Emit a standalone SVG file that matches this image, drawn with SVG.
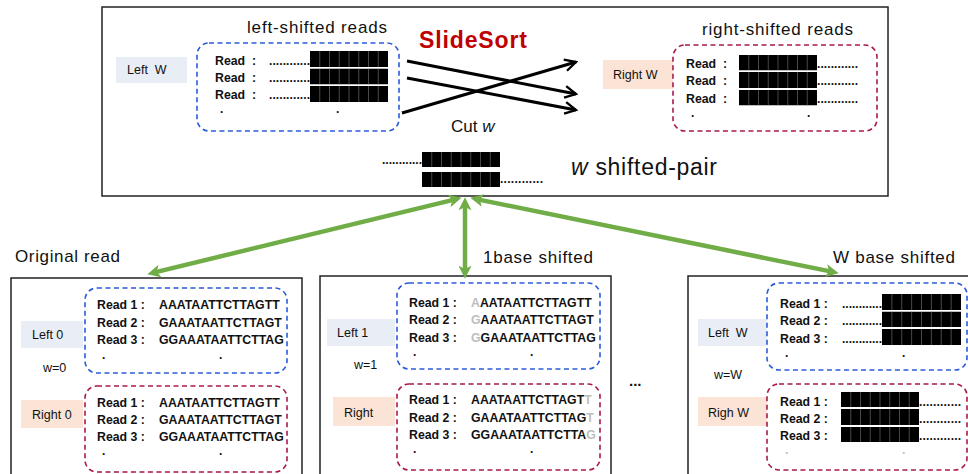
<svg xmlns="http://www.w3.org/2000/svg" width="968" height="474" viewBox="0 0 968 474">
  <style>
    text { font-family: "Liberation Sans", Arial, sans-serif; fill: #111; }
    .frame { fill: #fff; stroke: #222; stroke-width: 1.5; }
    .blue { fill: none; stroke: #2a5bd7; stroke-width: 1.6; stroke-dasharray: 5 3.5; }
    .red { fill: none; stroke: #a8184f; stroke-width: 1.6; stroke-dasharray: 5 3.5; }
    .lblL { fill: #e9edf5; }
    .lblR { fill: #fbe4d5; }
    .lbl { font-size: 12.5px; }
    .rd { font-size: 12.3px; font-weight: bold; }
    .dots { font-size: 12px; font-weight: bold; }
    .head { font-size: 17px; }
    .gr { fill: #bdbdbd; }
    .green { stroke: #70ad47; stroke-width: 4.5; fill: none; }
    .black { stroke: #000; stroke-width: 3; fill: none; }
  </style>
  <defs>
    <marker id="gh" viewBox="0 0 12 12" refX="4" refY="6" markerWidth="13" markerHeight="13" markerUnits="userSpaceOnUse" orient="auto-start-reverse">
      <path d="M0,0 L12,6 L0,12 L3,6 z" fill="#70ad47"/>
    </marker>
    <marker id="bh" viewBox="0 0 12 12" refX="10.5" refY="6" markerWidth="14" markerHeight="14" markerUnits="userSpaceOnUse" orient="auto">
      <path d="M1,1 L10.5,6 L1,11" fill="none" stroke="#000" stroke-width="2" stroke-linejoin="miter"/>
    </marker>
    <!-- one row of eight black cells -->
    <symbol id="blk" viewBox="0 0 78 16" width="78" height="16" preserveAspectRatio="none">
      <rect x="0" y="0" width="78" height="16" fill="#000"/>
      <g stroke="#5a5a5a" stroke-width="0.8">
        <line x1="9.75" y1="0" x2="9.75" y2="16"/>
        <line x1="19.5" y1="0" x2="19.5" y2="16"/>
        <line x1="29.25" y1="0" x2="29.25" y2="16"/>
        <line x1="39" y1="0" x2="39" y2="16"/>
        <line x1="48.75" y1="0" x2="48.75" y2="16"/>
        <line x1="58.5" y1="0" x2="58.5" y2="16"/>
        <line x1="68.25" y1="0" x2="68.25" y2="16"/>
      </g>
    </symbol>
  </defs>

  <!-- SlideSort overview panel -->
  <g id="slidesort">
    <rect class="frame" x="102" y="7" width="786" height="189"/>
    <text class="head" x="247" y="33" textLength="140">left-shifted reads</text>
    <rect class="lblL" x="116" y="57" width="71" height="26"/>
    <text class="lbl" x="127" y="74" xml:space="preserve">Left  W</text>
    <rect class="blue" x="197" y="43" width="202" height="88" rx="12"/>
    <text class="rd" x="215" y="65" xml:space="preserve">Read  :</text>
    <text class="rd" x="215" y="82" xml:space="preserve">Read  :</text>
    <text class="rd" x="215" y="99" xml:space="preserve">Read  :</text>
    <text class="dots" x="269" y="65" textLength="41">............</text>
    <text class="dots" x="269" y="82" textLength="41">............</text>
    <text class="dots" x="269" y="99" textLength="41">............</text>
    <use href="#blk" x="310" y="51" width="78" height="16"/>
    <use href="#blk" x="310" y="68.5" width="78" height="16"/>
    <use href="#blk" x="310" y="86" width="78" height="16"/>
    <text class="dots" x="220" y="113">.</text>
    <text class="dots" x="336" y="113">.</text>

    <text x="419" y="48" font-size="23" font-weight="bold" style="fill:#c00000" textLength="108">SlideSort</text>
    <text class="head" x="451" y="132">Cut <tspan font-style="italic">w</tspan></text>

    <text class="head" x="702" y="35" textLength="151">right-shifted reads</text>
    <rect class="lblR" x="603" y="60" width="70" height="29"/>
    <text class="lbl" x="613" y="79">Right W</text>
    <rect class="red" x="673" y="45" width="204" height="86" rx="12"/>
    <text class="rd" x="686" y="68" xml:space="preserve">Read  :</text>
    <text class="rd" x="686" y="85" xml:space="preserve">Read  :</text>
    <text class="rd" x="686" y="103" xml:space="preserve">Read  :</text>
    <use href="#blk" x="739" y="55" width="78" height="15.5"/>
    <use href="#blk" x="739" y="72" width="78" height="16"/>
    <use href="#blk" x="739" y="90" width="78" height="15.5"/>
    <text class="dots" x="817" y="68" textLength="41">............</text>
    <text class="dots" x="817" y="85" textLength="41">............</text>
    <text class="dots" x="817" y="103" textLength="41">............</text>
    <text class="dots" x="691" y="117">.</text>
    <text class="dots" x="807" y="117">.</text>

    <text class="dots" x="382" y="164" textLength="40">............</text>
    <use href="#blk" x="422" y="152" width="78" height="15"/>
    <use href="#blk" x="422" y="172" width="78" height="15"/>
    <text class="dots" x="500" y="183" textLength="43">............</text>
    <text x="571" y="175" font-size="23" textLength="146"><tspan font-style="italic">w</tspan> shifted-pair</text>
  </g>

  <!-- w = 0 -->
  <g id="original-read">
    <text class="head" x="15" y="262" textLength="105">Original read</text>
    <rect class="frame" x="11" y="278" width="291" height="210"/>
    <rect class="lblL" x="21" y="321" width="62" height="27"/>
    <text class="lbl" x="32" y="339">Left 0</text>
    <text class="lbl" x="43" y="372">w=0</text>
    <rect class="lblR" x="21" y="400" width="62" height="28"/>
    <text class="lbl" x="32" y="419">Right 0</text>
    <rect class="blue" x="85" y="288" width="202" height="85" rx="12"/>
    <text class="rd" x="97" y="309">Read 1 :</text>
    <text class="rd" x="97" y="327">Read 2 :</text>
    <text class="rd" x="97" y="344">Read 3 :</text>
    <text class="rd" x="159" y="309">AAATAATTCTTAGTT</text>
    <text class="rd" x="159" y="327">GAAATAATTCTTAGT</text>
    <text class="rd" x="159" y="344">GGAAATAATTCTTAG</text>
    <text class="dots" x="102" y="359">.</text>
    <text class="dots" x="219" y="359">.</text>
    <rect class="red" x="85" y="386" width="202" height="86" rx="12"/>
    <text class="rd" x="97" y="407">Read 1 :</text>
    <text class="rd" x="97" y="424">Read 2 :</text>
    <text class="rd" x="97" y="441">Read 3 :</text>
    <text class="rd" x="159" y="407">AAATAATTCTTAGTT</text>
    <text class="rd" x="159" y="424">GAAATAATTCTTAGT</text>
    <text class="rd" x="159" y="441">GGAAATAATTCTTAG</text>
    <text class="dots" x="102" y="455">.</text>
    <text class="dots" x="219" y="455">.</text>
  </g>

  <!-- w = 1 -->
  <g id="one-base-shifted">
    <text class="head" x="483" y="263" textLength="110">1base shifted</text>
    <rect class="frame" x="320" y="276" width="291" height="212"/>
    <rect class="lblL" x="327" y="319" width="68" height="27"/>
    <text class="lbl" x="337" y="337">Left 1</text>
    <text class="lbl" x="354" y="369">w=1</text>
    <rect class="lblR" x="333" y="397" width="62" height="29"/>
    <text class="lbl" x="344" y="417">Right</text>
    <rect class="blue" x="397" y="283" width="203" height="86" rx="12"/>
    <text class="rd" x="409" y="307">Read 1 :</text>
    <text class="rd" x="409" y="324">Read 2 :</text>
    <text class="rd" x="409" y="342">Read 3 :</text>
    <text class="rd" x="471" y="307"><tspan class="gr">A</tspan>AATAATTCTTAGTT</text>
    <text class="rd" x="471" y="324"><tspan class="gr">G</tspan>AAATAATTCTTAGT</text>
    <text class="rd" x="471" y="342"><tspan class="gr">G</tspan>GAAATAATTCTTAG</text>
    <text class="dots" x="413" y="356">.</text>
    <text class="dots" x="530" y="356">.</text>
    <rect class="red" x="397" y="384" width="203" height="86" rx="12"/>
    <text class="rd" x="409" y="404">Read 1 :</text>
    <text class="rd" x="409" y="422">Read 2 :</text>
    <text class="rd" x="409" y="439">Read 3 :</text>
    <text class="rd" x="471" y="404">AAATAATTCTTAGT<tspan class="gr">T</tspan></text>
    <text class="rd" x="471" y="422">GAAATAATTCTTAG<tspan class="gr">T</tspan></text>
    <text class="rd" x="471" y="439">GGAAATAATTCTTA<tspan class="gr">G</tspan></text>
    <text class="dots" x="413" y="453">.</text>
    <text class="dots" x="530" y="453">.</text>
  </g>

  <text x="629" y="386" font-size="15" font-weight="bold" style="fill:#111">...</text>

  <!-- w = W -->
  <g id="w-base-shifted">
    <text class="head" x="833" y="263" textLength="122">W base shifted</text>
    <rect class="frame" x="688" y="276" width="300" height="212"/>
    <rect class="lblL" x="698" y="319" width="69" height="27"/>
    <text class="lbl" x="708" y="337" xml:space="preserve">Left  W</text>
    <text class="lbl" x="714" y="379">w=W</text>
    <rect class="lblR" x="698" y="397" width="69" height="29"/>
    <text class="lbl" x="708" y="417">Righ W</text>
    <rect class="blue" x="767" y="283" width="200" height="87" rx="12"/>
    <text class="rd" x="780" y="308">Read 1 :</text>
    <text class="rd" x="780" y="325">Read 2 :</text>
    <text class="rd" x="780" y="343">Read 3 :</text>
    <text class="dots" x="842" y="308" textLength="40">............</text>
    <text class="dots" x="842" y="325" textLength="40">............</text>
    <text class="dots" x="842" y="343" textLength="40">............</text>
    <use href="#blk" x="882" y="294" width="79" height="16"/>
    <use href="#blk" x="882" y="311.5" width="79" height="15.5"/>
    <use href="#blk" x="882" y="329" width="79" height="16"/>
    <text class="dots" x="785" y="357">.</text>
    <text class="dots" x="902" y="357">.</text>
    <rect class="red" x="767" y="384" width="200" height="86" rx="12"/>
    <text class="rd" x="780" y="406">Read 1 :</text>
    <text class="rd" x="780" y="423">Read 2 :</text>
    <text class="rd" x="780" y="440">Read 3 :</text>
    <use href="#blk" x="841" y="392" width="78" height="15"/>
    <use href="#blk" x="841" y="409" width="78" height="16"/>
    <use href="#blk" x="841" y="427" width="78" height="15"/>
    <text class="dots" x="919" y="406" textLength="42">............</text>
    <text class="dots" x="919" y="423" textLength="42">............</text>
    <text class="dots" x="919" y="440" textLength="42">............</text>
    <text class="dots gr" x="785" y="454">.</text>
    <text class="dots gr" x="902" y="454">.</text>
  </g>

  <!-- connectors -->
  <g id="connectors">
    <line class="black" x1="407" y1="61" x2="576" y2="94" marker-end="url(#bh)"/>
    <line class="black" x1="407" y1="78" x2="576" y2="110" marker-end="url(#bh)"/>
    <line class="black" x1="402" y1="113" x2="576" y2="62" marker-end="url(#bh)"/>
    <line class="green" x1="453.2" y1="199.9" x2="155.8" y2="272.1" marker-start="url(#gh)" marker-end="url(#gh)"/>
    <line class="green" x1="465" y1="206" x2="465" y2="270" marker-start="url(#gh)" marker-end="url(#gh)"/>
    <line class="green" x1="478.8" y1="199.6" x2="830.2" y2="271.4" marker-start="url(#gh)" marker-end="url(#gh)"/>
  </g>
</svg>
